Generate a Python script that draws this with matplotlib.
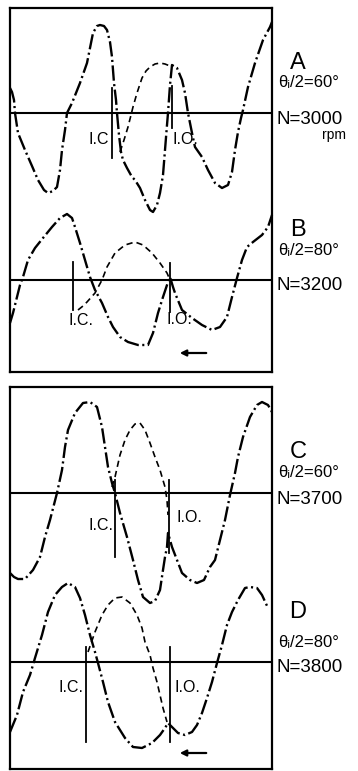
import matplotlib
matplotlib.use('Agg')
import matplotlib.pyplot as plt

# traces (horizontal position, vertical position downward)
a_main_x = [10, 12, 14, 15, 18, 25, 32, 38, 44, 48, 53, 57, 60, 62, 65, 67, 72, 76, 80, 87,
            90, 93, 97, 100, 104, 107, 110, 112, 114, 116, 117, 119, 121, 123, 127, 132, 135, 140, 145, 150,
            153, 157, 160, 163, 165, 167, 168, 170, 172, 177, 182, 185, 188, 192, 195, 202, 208, 215, 222, 228,
            232, 235, 238, 241, 243, 248, 255, 263, 270, 272]
a_main_y = [88, 92, 100, 113, 133, 150, 166, 180, 190, 193, 191, 187, 170, 150, 130, 113, 103, 93, 83, 63,
            48, 33, 26, 25, 26, 30, 42, 57, 83, 100, 113, 135, 152, 160, 168, 177, 180, 188, 200, 210,
            212, 205, 193, 175, 150, 125, 113, 85, 65, 68, 80, 93, 113, 133, 147, 157, 170, 183, 188, 185,
            172, 150, 132, 118, 110, 87, 63, 40, 27, 22]
a_dash_x = [120, 124, 128, 133, 137, 142, 146, 150, 155, 160, 165, 170]
a_dash_y = [152, 140, 127, 107, 93, 78, 71, 67, 64, 63, 64, 66]

b_main_x = [10, 13, 18, 20, 23, 28, 35, 43, 52, 60, 67, 72, 75, 80, 85, 90, 95, 102, 108, 113,
            120, 128, 138, 148, 153, 158, 163, 168, 170, 173, 175, 182, 192, 202, 212, 220, 227, 232, 237, 242,
            247, 253, 262, 268, 272]
b_main_y = [323, 313, 293, 285, 277, 260, 248, 238, 227, 218, 214, 218, 227, 243, 260, 277, 290, 303, 317, 327,
            337, 342, 345, 345, 333, 313, 297, 282, 277, 287, 293, 310, 318, 325, 330, 327, 317, 297, 278, 260,
            247, 242, 235, 227, 215]
b_dash_x = [78, 83, 87, 95, 102, 107, 115, 125, 135, 143, 152, 160, 167, 170]
b_dash_y = [310, 306, 302, 293, 280, 267, 253, 245, 242, 245, 253, 263, 273, 280]

c_main_x = [10, 14, 18, 25, 33, 40, 45, 50, 57, 62, 65, 68, 75, 83, 90, 97, 102, 105, 108, 112,
            115, 120, 127, 133, 138, 143, 150, 155, 160, 163, 165, 167, 168, 170, 172, 177, 182, 190, 197, 204,
            210, 215, 220, 225, 230, 235, 238, 243, 250, 257, 262, 268, 272]
c_main_y = [573, 577, 579, 579, 570, 557, 537, 520, 493, 470, 447, 430, 413, 403, 402, 407, 427, 447, 467, 483,
            493, 513, 537, 560, 580, 597, 603, 601, 590, 570, 557, 547, 533, 540, 547, 560, 573, 580, 583, 580,
            567, 560, 540, 520, 495, 473, 457, 437, 417, 405, 402, 405, 412]
c_dash_x = [112, 115, 120, 125, 130, 135, 140, 145, 150, 155, 160, 165, 167, 168]
c_dash_y = [487, 477, 455, 440, 430, 424, 423, 430, 443, 457, 470, 487, 500, 515]

d_main_x = [10, 17, 23, 30, 35, 42, 48, 55, 62, 68, 75, 80, 85, 90, 95, 98, 103, 108, 115, 125,
            133, 142, 152, 160, 165, 168, 173, 178, 185, 192, 197, 202, 207, 212, 217, 222, 227, 232, 238, 245,
            250, 257, 262, 268]
d_main_y = [732, 715, 692, 675, 658, 635, 612, 595, 587, 583, 587, 598, 615, 635, 652, 663, 682, 702, 722, 738,
            747, 748, 743, 735, 728, 723, 728, 733, 735, 732, 725, 713, 698, 682, 663, 645, 625, 612, 600, 588,
            587, 588, 595, 608]
d_dash_x = [88, 95, 102, 108, 115, 122, 130, 137, 142, 145, 150, 153, 157, 160, 163, 167]
d_dash_y = [652, 632, 615, 605, 598, 597, 603, 615, 628, 642, 655, 668, 682, 695, 708, 722]

panel_letters = ['A', 'B', 'C', 'D']
theta_labels = ['θᵢ/2=60°', 'θᵢ/2=80°', 'θᵢ/2=60°', 'θᵢ/2=80°']
speed_labels = ['N=3000', 'N=3200', 'N=3700', 'N=3800']
baselines = [113, 280, 493, 662]
ic_x = [112, 73, 115, 86]
ic_span = [(88, 158), (262, 310), (480, 557), (647, 742)]
io_x = [172, 170, 169, 170]
io_span = [(86, 128), (263, 312), (480, 553), (647, 742)]

plt.rcParams['font.family'] = ['Liberation Sans', 'DejaVu Sans']
plt.rcParams['lines.scale_dashes'] = False

W, H = 358, 771
fig = plt.figure(figsize=(W / 100, H / 100), dpi=100)
ax_top = fig.add_axes([10 / W, 1 - 372 / H, 262 / W, 364 / H])
ax_bot = fig.add_axes([10 / W, 1 - 769 / H, 262 / W, 382 / H])
ax_top.set_ylim(372, 8)
ax_bot.set_ylim(769, 387)
for ax in (ax_top, ax_bot):
    ax.set_xlim(10, 272)
    ax.set_xticks([])
    ax.set_yticks([])
    for s in ax.spines.values():
        s.set_linewidth(1.6)

axes = [ax_top, ax_top, ax_bot, ax_bot]
mains = [(a_main_x, a_main_y), (b_main_x, b_main_y), (c_main_x, c_main_y), (d_main_x, d_main_y)]
dashes = [(a_dash_x, a_dash_y), (b_dash_x, b_dash_y), (c_dash_x, c_dash_y), (d_dash_x, d_dash_y)]

main_style = dict(color='black', lw=1.7, dashes=(11, 2.5, 1.5, 2.5), clip_on=False)
dash_style = dict(color='black', lw=1.2, dashes=(4.5, 3))

for i, ax in enumerate(axes):
    base = baselines[i]
    ax.axhline(base, color='black', lw=1.5)
    ax.plot(*mains[i], **main_style)
    ax.plot(*dashes[i], **dash_style)
    ax.plot([ic_x[i], ic_x[i]], ic_span[i], color='black', lw=1.3)
    ax.plot([io_x[i], io_x[i]], io_span[i], color='black', lw=1.3)

    ax.text(298, base - 50 if i != 2 else base - 41, panel_letters[i], fontsize=17,
            ha='center', va='center', clip_on=False)
    ax.text(278, base - 30 if i < 2 else base - 20, theta_labels[i], fontsize=12,
            ha='left', va='center', clip_on=False)
    ax.text(277, base + 6, speed_labels[i], fontsize=13.5,
            ha='left', va='center', clip_on=False)

ax_top.text(322, 135, 'rpm', fontsize=10, ha='left', va='center', clip_on=False)

# I.C. / I.O. labels
lab = dict(fontsize=11.5, va='center')
ax_top.text(109, 140, 'I.C', ha='right', **lab)
ax_top.text(172, 139, 'I.O.', ha='left', **lab)
ax_top.text(68, 321, 'I.C.', ha='left', **lab)
ax_top.text(167, 320, 'I.O.', ha='left', **lab)
ax_bot.text(114, 525, 'I.C.', ha='right', **lab)
ax_bot.text(177, 517, 'I.O.', ha='left', **lab)
ax_bot.text(84, 687, 'I.C.', ha='right', **lab)
ax_bot.text(175, 687, 'I.O.', ha='left', **lab)

# rotation direction arrows
for ax, y in ((ax_top, 353), (ax_bot, 753)):
    ax.annotate('', xy=(177, y), xytext=(209, y),
                arrowprops=dict(arrowstyle='-|>', color='black', lw=1.6, mutation_scale=9))

fig.savefig('out.png', dpi=100, facecolor='white')
